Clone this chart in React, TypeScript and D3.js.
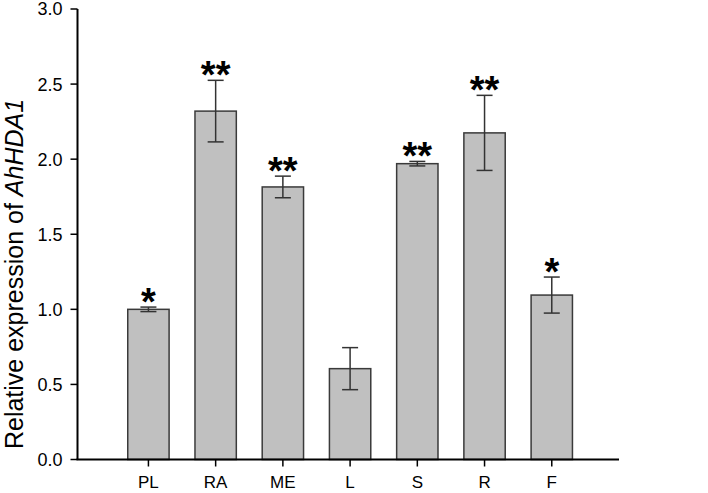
import React from "react";
import * as d3 from "d3";

const categories = ["PL", "RA", "ME", "L", "S", "R", "F"];
const values = [1.0, 2.32, 1.815, 0.605, 1.97, 2.175, 1.095];
const errors = [0.015, 0.205, 0.072, 0.14, 0.015, 0.25, 0.12];
const stars = ["*", "**", "**", "", "**", "**", "*"];
const yTicks = [0, 0.5, 1.0, 1.5, 2.0, 2.5, 3.0];

const W = 708;
const H = 493;
const axisLeft = 77.5;
const axisRight = 619;
const yTop = 9;
const yBottom = 459.5;

export default function App() {
  const x = d3
    .scaleLinear()
    .domain([-0.055, categories.length + 1])
    .range([axisLeft, axisRight]);
  const step = x(2) - x(1);
  const barW = step * 0.615;
  const y = d3.scaleLinear().domain([0, 3]).range([yBottom, yTop]);
  const capW = 16;
  const font = "Arial, 'Liberation Sans', sans-serif";

  return (
    <svg
      width={W}
      height={H}
      style={{ position: "absolute", left: 0, top: 0, background: "#fff" }}
    >
      <rect x={0} y={0} width={W} height={H} fill="#fff" />
      {/* bars */}
      {categories.map((c, i) => {
        const cx = x(i + 1);
        return (
          <g key={c}>
            <rect
              x={cx - barW / 2}
              y={y(values[i])}
              width={barW}
              height={y(0) - y(values[i])}
              fill="#c0c0c0"
              stroke="#3a3a3a"
              strokeWidth={1.5}
            />
            <line
              x1={cx}
              x2={cx}
              y1={y(values[i] + errors[i])}
              y2={y(values[i] - errors[i])}
              stroke="#333"
              strokeWidth={1.5}
            />
            <line
              x1={cx - capW / 2}
              x2={cx + capW / 2}
              y1={y(values[i] + errors[i])}
              y2={y(values[i] + errors[i])}
              stroke="#333"
              strokeWidth={1.5}
            />
            <line
              x1={cx - capW / 2}
              x2={cx + capW / 2}
              y1={y(values[i] - errors[i])}
              y2={y(values[i] - errors[i])}
              stroke="#333"
              strokeWidth={1.5}
            />
            {stars[i] && (
              <text
                x={cx}
                y={y(values[i] + errors[i]) + 8}
                textAnchor="middle"
                fontFamily={font}
                fontWeight="bold"
                fontSize={38}
                fill="#000"
              >
                {stars[i]}
              </text>
            )}
          </g>
        );
      })}
      {/* y axis */}
      <line x1={axisLeft} x2={axisLeft} y1={yTop} y2={yBottom} stroke="#000" strokeWidth={2} />
      {yTicks.map((t) => (
        <g key={t}>
          <line
            x1={axisLeft - 7}
            x2={axisLeft}
            y1={y(t)}
            y2={y(t)}
            stroke="#000"
            strokeWidth={1.5}
          />
          <text
            x={axisLeft - 15}
            y={y(t)}
            dy="0.36em"
            textAnchor="end"
            fontFamily={font}
            fontSize={18}
            fill="#000"
          >
            {t.toFixed(1)}
          </text>
        </g>
      ))}
      {/* x axis */}
      <line x1={axisLeft - 1} x2={axisRight} y1={yBottom} y2={yBottom} stroke="#000" strokeWidth={2} />
      {categories.map((c, i) => (
        <g key={"t" + c}>
          <line
            x1={x(i + 1)}
            x2={x(i + 1)}
            y1={yBottom}
            y2={yBottom + 7}
            stroke="#000"
            strokeWidth={1.5}
          />
          <text
            x={x(i + 1)}
            y={yBottom + 28}
            textAnchor="middle"
            fontFamily={font}
            fontSize={17}
            fill="#000"
          >
            {c}
          </text>
        </g>
      ))}
      {/* y label */}
      <text
        transform={`translate(23, 274) rotate(-90)`}
        textAnchor="middle"
        fontFamily={font}
        fontSize={25}
        fill="#000"
      >
        Relative expression of <tspan fontStyle="italic">AhHDA1</tspan>
      </text>
    </svg>
  );
}
